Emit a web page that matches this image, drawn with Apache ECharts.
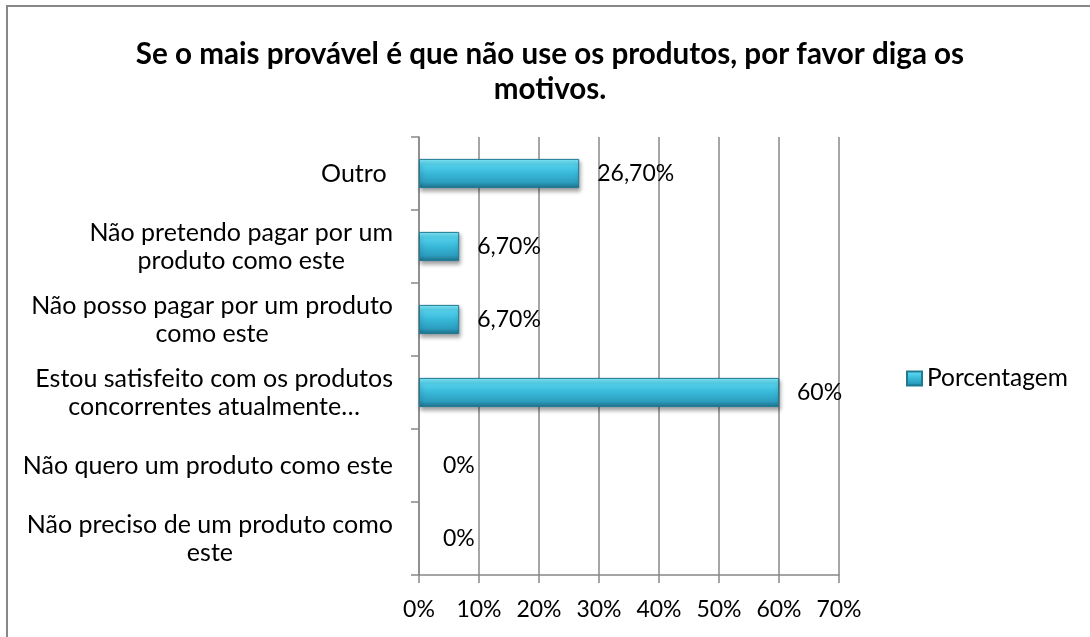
<!DOCTYPE html>
<html>
<head>
<meta charset="utf-8">
<script src="https://cdn.jsdelivr.net/npm/echarts@6/dist/echarts.min.js"></script>
<style>html,body{margin:0;padding:0;background:#fff;}#c{width:1090px;height:637px;}</style>
</head>
<body>
<div id="c"></div>
<script>
// Categories, bottom to top (as drawn by a category y-axis)
const categories = [
  'Não preciso de um produto como\neste',
  'Não quero um produto como este',
  'Estou satisfeito com os produtos\nconcorrentes atualmente…',
  'Não posso pagar por um produto\ncomo este',
  'Não pretendo pagar por um\nproduto como este',
  'Outro '
];
const values = [0, 0, 60, 6.7, 6.7, 26.7];
const seriesName = 'Porcentagem';
const titleText = 'Se o mais provável é que não use os produtos, por favor diga os\nmotivos.';
const xTickLabels = ['0%', '10%', '20%', '30%', '40%', '50%', '60%', '70%'];
const xMin = 0, xMax = 70, xStep = 10;

const FONT = 'Lato, "Open Sans", sans-serif';

function fmtPct(v) {
  return Number.isInteger(v) ? v + '%' : v.toFixed(2).replace('.', ',') + '%';
}

const barGradient = new echarts.graphic.LinearGradient(0, 0, 0, 1, [
  { offset: 0, color: '#86ecfb' },
  { offset: 0.18, color: '#56d3ee' },
  { offset: 0.5, color: '#38b8d8' },
  { offset: 0.8, color: '#2d9ebf' },
  { offset: 1, color: '#1d6f88' }
]);

const chart = echarts.init(document.getElementById('c'), null, { renderer: 'canvas' });
chart.setOption({
  backgroundColor: '#ffffff',
  animation: false,
  title: {
    text: titleText,
    left: 545,
    top: 32,
    textAlign: 'center',
    textStyle: { fontFamily: FONT, fontWeight: 'bold', fontSize: 29.6, color: '#000', lineHeight: 35 }
  },
  legend: {
    data: [seriesName],
    left: 901,
    top: 361,
    itemWidth: 15,
    itemHeight: 14,
    itemGap: 6,
    icon: 'rect',
    textStyle: { fontFamily: FONT, fontSize: 24.5, color: '#000' }
  },
  graphic: [{
    type: 'rect',
    shape: { x: 7, y: 6, width: 1200, height: 800 },
    style: { fill: 'none', stroke: '#888', lineWidth: 2 },
    silent: true
  }],
  grid: { left: 419, right: 251, top: 137, bottom: 62, containLabel: false },
  xAxis: {
    type: 'value',
    min: xMin, max: xMax, interval: xStep,
    axisLine: { show: true, lineStyle: { color: '#888', width: 1.5 } },
    axisTick: { show: true, length: 8, lineStyle: { color: '#888', width: 1.5 } },
    splitLine: { show: true, lineStyle: { color: '#888', width: 1.5 } },
    axisLabel: {
      margin: 23,
      fontFamily: FONT, fontSize: 23, color: '#000',
      formatter: function (v) { return xTickLabels[Math.round((v - xMin) / xStep)]; }
    }
  },
  yAxis: {
    type: 'category',
    data: categories,
    axisLine: { show: true, lineStyle: { color: '#888', width: 1.5 } },
    axisTick: { show: true, length: 8, lineStyle: { color: '#888', width: 1.5 } },
    axisLabel: {
      margin: 26,
      fontFamily: FONT, fontSize: 25, color: '#000', lineHeight: 28,
      formatter: function (v) {
        return v.split('\n').map(function (l) { return '{c|' + l + '}'; }).join('\n');
      },
      rich: { c: { fontFamily: FONT, fontSize: 25, color: '#000', lineHeight: 28, align: 'center' } }
    }
  },
  series: [{
    name: seriesName,
    type: 'bar',
    data: values.map(function (v) {
      return v === 0
        ? { value: v, label: { distance: 24 }, itemStyle: { color: 'rgba(0,0,0,0)', borderWidth: 0, shadowColor: 'rgba(0,0,0,0)' } }
        : { value: v };
    }),
    barCategoryGap: '60%',
    itemStyle: {
      color: barGradient,
      borderColor: '#1f7a94',
      borderWidth: 1,
      shadowColor: 'rgba(0,0,0,0.35)',
      shadowBlur: 4,
      shadowOffsetX: 1,
      shadowOffsetY: 3
    },
    label: {
      show: true,
      position: 'right',
      distance: 18,
      fontFamily: FONT, fontSize: 23, color: '#000',
      formatter: function (p) { return fmtPct(p.value); }
    }
  }]
});
</script>
</body>
</html>
